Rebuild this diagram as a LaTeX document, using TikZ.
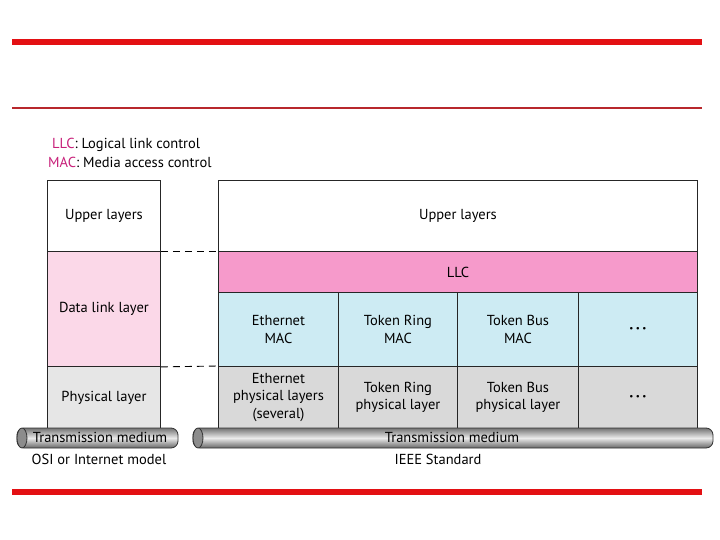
\documentclass[tikz,border=0pt]{standalone}
\usepackage{fontspec}
\setmainfont{PT Sans}
\usetikzlibrary{shapes.geometric}
\definecolor{redbar}{HTML}{E31013}
\definecolor{darkredbar}{HTML}{B8282C}
\definecolor{magtext}{HTML}{C8207A}
\definecolor{dlpink}{HTML}{FBD8E8}
\definecolor{llcpink}{HTML}{F69ACB}
\definecolor{macblue}{HTML}{CDEBF3}
\definecolor{phygray}{HTML}{D9D9D9}
\definecolor{phylgray}{HTML}{E6E6E6}
\newcommand{\mydots}{{\fontsize{9}{9}\selectfont\textbullet\hspace{2.5pt}\textbullet\hspace{2.5pt}\textbullet}}
\tikzset{
  layer/.style={draw=black!85, line width=0.9pt, font=\fontsize{14.5}{17.5}\selectfont, align=center, inner sep=0pt},
  tube/.style={draw=black!80, line width=0.8pt, rounded corners=7pt,
     top color=black!55, bottom color=black!60, middle color=black!8},
  lbl/.style={font=\fontsize{14.5}{17}\selectfont, inner sep=0pt},
  dashline/.style={dashed, dash pattern=on 7pt off 5pt, line width=0.9pt}
}
\begin{document}
\begin{tikzpicture}[x=1pt,y=-1pt]
\useasboundingbox (0,0) rectangle (720,540);
\fill[white] (0,0) rectangle (720,540);
% red bars
\fill[redbar] (12,39) rectangle (702,45);
\fill[darkredbar] (12,107) rectangle (702,109);
\fill[redbar] (12,489) rectangle (702,495);
% legend
\node[lbl, anchor=west] (leg1) at (52,145) {\textcolor{magtext}{LLC}: Logical link control};
\node[lbl, anchor=west] (leg2) at (48,162) {\textcolor{magtext}{MAC}: Media access control};
% left column
\node[layer, fill=white, minimum width=113pt, minimum height=71pt, anchor=north west] (lup) at (47,180) {Upper layers};
\node[layer, fill=dlpink, minimum width=113pt, minimum height=115pt, anchor=north west] (ldl) at (47,251) {Data link layer};
\node[layer, fill=phylgray, minimum width=113pt, minimum height=62pt, anchor=north west] (lph) at (47,366) {Physical layer};
% right column
\node[layer, fill=white, minimum width=479pt, minimum height=71pt, anchor=north west] (rup) at (218,180) {Upper layers};
\node[layer, fill=llcpink, minimum width=479pt, minimum height=41pt, anchor=north west] (llc) at (218,251) {LLC};
\node[layer, fill=macblue, minimum width=120pt, minimum height=74pt, anchor=north west] (m1) at (218,292) {Ethernet\\MAC};
\node[layer, fill=macblue, minimum width=119pt, minimum height=74pt, anchor=north west] (m2) at (338,292) {Token Ring\\MAC};
\node[layer, fill=macblue, minimum width=121pt, minimum height=74pt, anchor=north west] (m3) at (457,292) {Token Bus\\MAC};
\node[layer, fill=macblue, minimum width=119pt, minimum height=74pt, anchor=north west] (m4) at (578,292) {\mydots};
\node[layer, fill=phygray, minimum width=120pt, minimum height=62pt, anchor=north west] (p1) at (218,366) {Ethernet\\physical layers\\(several)};
\node[layer, fill=phygray, minimum width=119pt, minimum height=62pt, anchor=north west] (p2) at (338,366) {Token Ring\\physical layer};
\node[layer, fill=phygray, minimum width=121pt, minimum height=62pt, anchor=north west] (p3) at (457,366) {Token Bus\\physical layer};
\node[layer, fill=phygray, minimum width=119pt, minimum height=62pt, anchor=north west] (p4) at (578,366) {\mydots};
% dashed connectors
\draw[dashline] (lup.south east) -- (rup.south west);
\draw[dashline] (ldl.south east) -- (p1.north west);
% tubes
\draw[tube] (17,428) rectangle (178,448);
\draw[draw=black!80, line width=0.8pt, fill=black!45] (22,438) ellipse (5pt and 10pt);
\node[lbl] (ltm) at (100,437) {Transmission medium};
\draw[tube] (193,428) rectangle (713,448);
\draw[draw=black!80, line width=0.8pt, fill=black!45] (198,438) ellipse (5pt and 10pt);
\node[lbl] (rtm) at (452,437) {Transmission medium};
\node[lbl] (osi) at (99,459) {OSI or Internet model};
\node[lbl] (ieee) at (438,459) {IEEE Standard};
\end{tikzpicture}
\end{document}
